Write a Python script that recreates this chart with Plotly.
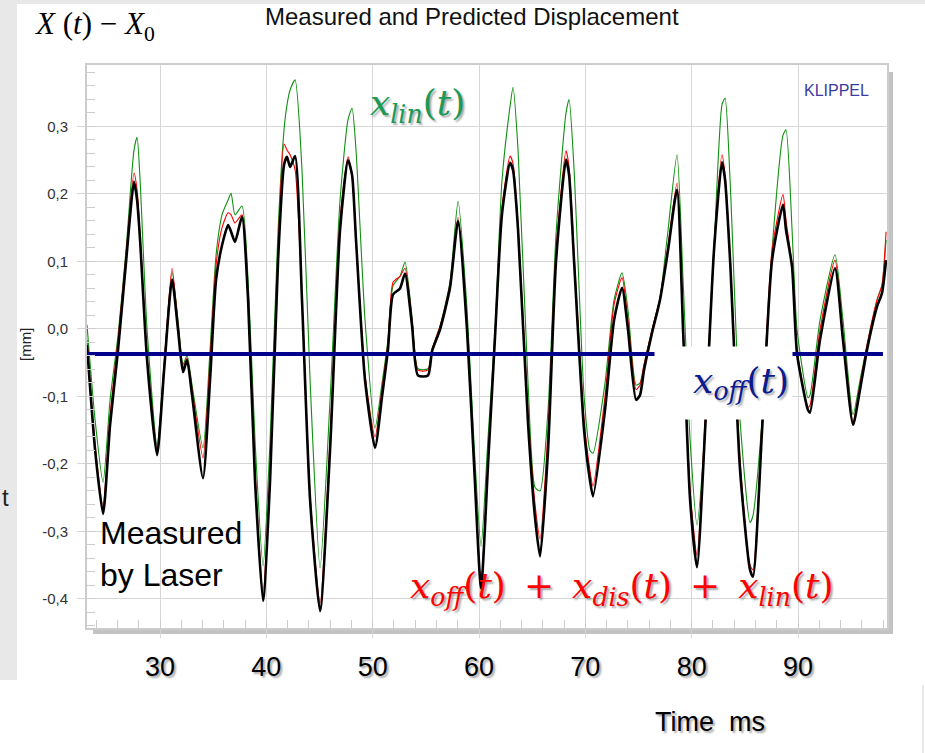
import plotly.graph_objects as go

# ---------------- data ----------------
time_ms = [23.13, 23.89, 24.64, 25.30, 26.05, 26.80, 27.55, 27.84, 28.12, 28.78,
           29.72, 30.38, 31.13, 31.69, 32.16, 32.54, 33.01, 34.04, 34.70, 35.27,
           35.83, 36.40, 36.68, 37.05, 37.71, 38.28, 38.93, 39.69, 40.35, 41.10,
           41.66, 41.94, 42.23, 42.70, 43.35, 44.11, 45.05, 45.99, 46.93, 47.68,
           48.06, 48.43, 49.28, 50.22, 50.88, 51.44, 51.91, 52.57, 53.04, 53.70,
           54.26, 55.20, 55.58, 56.33, 57.27, 58.03, 58.87, 59.53, 60.19, 60.85,
           61.51, 62.16, 62.92, 63.20, 63.67, 64.61, 65.27, 65.74, 66.49, 67.24,
           68.18, 68.47, 68.94, 69.88, 70.44, 70.72, 71.85, 72.70, 73.45, 74.01,
           74.77, 75.14, 75.52, 76.27, 77.02, 77.78, 78.62, 79.19, 79.85, 80.50,
           81.26, 82.10, 82.85, 83.14, 83.61, 84.55, 85.49, 85.77, 86.62, 87.56,
           88.59, 88.87, 89.44, 89.91, 90.94, 91.13, 92.07, 93.48, 94.23, 95.18,
           95.83, 96.49, 97.43, 97.90, 98.28]

measured = [-0.024, -0.179, -0.274, -0.142, -0.031, 0.099, 0.218, 0.191, 0.132, -0.046,
            -0.187, -0.061, 0.073, -0.001, -0.064, -0.046, -0.098, -0.221, -0.076, 0.073,
            0.124, 0.154, 0.144, 0.129, 0.166, 0.043, -0.224, -0.403, -0.224, 0.102,
            0.243, 0.255, 0.240, 0.256, 0.043, -0.253, -0.418, -0.179, 0.147, 0.250,
            0.228, 0.132, -0.076, -0.176, -0.100, -0.030, 0.051, 0.060, 0.082, 0.005,
            -0.069, -0.069, -0.033, -0.001, 0.061, 0.160, -0.001, -0.200, -0.384, -0.200,
            -0.010, 0.170, 0.246, 0.235, 0.147, -0.140, -0.280, -0.337, -0.180, 0.100,
            0.251, 0.228, 0.100, -0.150, -0.225, -0.248, -0.120, 0.013, 0.061, -0.001,
            -0.105, -0.098, -0.061, -0.006, 0.043, 0.117, 0.206, -0.001, -0.253, -0.353,
            -0.150, 0.117, 0.247, 0.221, 0.102, -0.209, -0.357, -0.367, -0.150, 0.102,
            0.184, 0.147, 0.092, -0.037, -0.120, -0.124, -0.016, 0.090, -0.016, -0.142,
            -0.090, -0.031, 0.033, 0.053, 0.102]

predicted = [-0.016, -0.172, -0.262, -0.127, -0.016, 0.110, 0.231, 0.206, 0.139, -0.039,
             -0.179, -0.053, 0.090, 0.006, -0.058, -0.043, -0.090, -0.191, -0.046, 0.095,
             0.150, 0.172, 0.169, 0.157, 0.169, 0.043, -0.209, -0.390, -0.209, 0.117,
             0.274, 0.265, 0.258, 0.236, 0.043, -0.246, -0.406, -0.164, 0.161, 0.255,
             0.228, 0.132, -0.068, -0.160, -0.088, -0.020, 0.069, 0.078, 0.090, 0.012,
             -0.061, -0.061, -0.030, 0.004, 0.066, 0.165, -0.001, -0.195, -0.377, -0.190,
             -0.010, 0.180, 0.256, 0.245, 0.154, -0.125, -0.260, -0.311, -0.150, 0.115,
             0.264, 0.240, 0.110, -0.135, -0.210, -0.233, -0.100, 0.036, 0.076, 0.013,
             -0.090, -0.083, -0.053, -0.001, 0.046, 0.124, 0.216, -0.001, -0.239, -0.335,
             -0.135, 0.124, 0.258, 0.228, 0.110, -0.194, -0.350, -0.357, -0.135, 0.117,
             0.199, 0.161, 0.095, -0.031, -0.116, -0.113, -0.001, 0.102, -0.009, -0.138,
             -0.083, -0.024, 0.043, 0.065, 0.144]

linear = [0.006, -0.135, -0.227, -0.105, -0.009, 0.117, 0.265, 0.284, 0.221, -0.001,
          -0.172, -0.053, 0.084, 0.013, -0.053, -0.039, -0.083, -0.176, -0.031, 0.110,
          0.169, 0.191, 0.201, 0.169, 0.182, 0.073, -0.164, -0.351, -0.164, 0.147,
          0.295, 0.332, 0.354, 0.369, 0.236, -0.076, -0.354, -0.105, 0.191, 0.310,
          0.327, 0.265, 0.013, -0.147, -0.080, -0.015, 0.064, 0.078, 0.099, 0.018,
          -0.059, -0.059, -0.030, 0.004, 0.070, 0.189, 0.030, -0.170, -0.322, -0.160,
          0.000, 0.220, 0.330, 0.358, 0.265, -0.080, -0.235, -0.240, -0.120, 0.140,
          0.320, 0.340, 0.236, -0.100, -0.180, -0.184, -0.080, 0.043, 0.083, 0.028,
          -0.083, -0.080, -0.053, -0.001, 0.046, 0.147, 0.258, 0.073, -0.164, -0.290,
          -0.150, 0.117, 0.332, 0.342, 0.221, -0.135, -0.287, -0.276, -0.135, 0.117,
          0.287, 0.295, 0.147, -0.001, -0.102, -0.098, 0.013, 0.110, 0.013, -0.127,
          -0.076, -0.024, 0.043, 0.065, 0.132]

offset_value = -0.037
offset_time = [23.13, 97.99]

x_range = [23.13, 98.37]
y_range = [-0.443, 0.391]
x_tick_vals = [30, 40, 50, 60, 70, 80, 90]
x_tick_text = ["30", "40", "50", "60", "70", "80", "90"]
y_tick_vals = [0.3, 0.2, 0.1, 0.0, -0.1, -0.2, -0.3, -0.4]
y_tick_text = ["0,3", "0,2", "0,1", "0,0", "-0,1", "-0,2", "-0,3", "-0,4"]

# ---------------- figure ----------------
W, H = 925, 753
L, R, T, B = 87, 38, 65, 125
PW, PH = W - L - R, H - T - B


def px(xp):
    return (xp - L) / PW


def py(yp):
    return (H - B - yp) / PH


fig = go.Figure()
fig.add_trace(go.Scatter(x=time_ms, y=linear, mode="lines", name="x_lin",
                         line=dict(color="#109010", width=1.1, shape="spline", smoothing=0.6)))
fig.add_trace(go.Scatter(x=time_ms, y=predicted, mode="lines", name="predicted",
                         line=dict(color="#ff0000", width=1.1, shape="spline", smoothing=0.6)))
fig.add_trace(go.Scatter(x=time_ms, y=measured, mode="lines", name="measured",
                         line=dict(color="#000000", width=2.6, shape="spline", smoothing=0.6)))
fig.add_trace(go.Scatter(x=offset_time, y=[offset_value, offset_value], mode="lines",
                         name="x_off", line=dict(color="#00008c", width=4)))

grid = "#d6d6d6"
shadow = "2px 2px 2px rgba(0,0,0,0.35)"

fig.update_layout(
    width=W, height=H, autosize=False,
    margin=dict(l=L, r=R, t=T, b=B),
    paper_bgcolor="white", plot_bgcolor="white",
    showlegend=False,
    font=dict(family="Liberation Sans, Arial, sans-serif", color="#000"),
    xaxis=dict(
        range=x_range, tickmode="array", tickvals=x_tick_vals, ticktext=x_tick_text,
        showgrid=True, gridcolor=grid, gridwidth=1, zeroline=False,
        ticks="outside", ticklen=8, tickcolor=grid,
        showline=True, linecolor="#cccccc", linewidth=2, mirror=True,
        minor=dict(ticks="inside", ticklen=8, dtick=2, tick0=0, tickcolor="#cccccc", showgrid=False),
        tickfont=dict(family="Liberation Sans, Arial, sans-serif", size=27, color="#000", shadow=shadow),
        ticklabelstandoff=6, automargin=False,
    ),
    yaxis=dict(
        range=y_range, tickmode="array", tickvals=y_tick_vals, ticktext=y_tick_text,
        showgrid=True, gridcolor=grid, gridwidth=1, zeroline=False,
        ticks="outside", ticklen=8, tickcolor=grid,
        showline=True, linecolor="#cccccc", linewidth=2, mirror=True,
        minor=dict(ticks="inside", ticklen=8, dtick=0.02, tick0=0, tickcolor="#cccccc", showgrid=False),
        tickfont=dict(family="Liberation Sans, Arial, sans-serif", size=15, color="#333"),
        ticklabelstandoff=6, automargin=False,
    ),
)

shapes = [
    # page gray bands
    dict(type="rect", xref="paper", yref="paper", x0=px(0), x1=px(17), y0=py(680), y1=py(0),
         fillcolor="#e8e8e8", line=dict(width=0), layer="below"),
    dict(type="rect", xref="paper", yref="paper", x0=px(0), x1=px(925), y0=py(4), y1=py(0),
         fillcolor="#e8e8e8", line=dict(width=0), layer="below"),
    # plot drop shadow
    dict(type="rect", xref="paper", yref="paper", x0=px(93), x1=px(893), y0=py(634), y1=py(629),
         fillcolor="#c3c3c3", line=dict(width=0), layer="below"),
    dict(type="rect", xref="paper", yref="paper", x0=px(888), x1=px(893), y0=py(634), y1=py(72),
         fillcolor="#c3c3c3", line=dict(width=0), layer="below"),
    dict(type="line", xref="paper", yref="paper", x0=px(923), x1=px(923), y0=py(685), y1=py(753),
         line=dict(color="#d0d0d0", width=1)),
]
fig.update_layout(shapes=shapes)

math_font = "DejaVu Serif, Liberation Serif, serif"
math_size = 36
annos = [
    dict(text="Measured and Predicted Displacement", x=px(472), y=py(17),
         font=dict(size=24, color="#111")),
    dict(text="<i>X</i> (<i>t</i>) − <i>X</i><sub>0</sub>", x=px(32), y=py(26), xanchor="left",
         font=dict(family="Liberation Serif, Times New Roman, serif", size=31, color="#000")),
    dict(text="[mm]", x=px(25), y=py(345), textangle=-90, font=dict(size=15, color="#222")),
    dict(text="t", x=px(0), y=py(497), xanchor="left", font=dict(size=24, color="#222")),
    dict(text="KLIPPEL", x=px(836), y=py(90), font=dict(size=16, color="#3a3aa0")),
    dict(text="<i>x</i><sub><i>lin</i></sub>(<i>t</i>)", x=px(368), y=py(105), xanchor="left",
         font=dict(family=math_font, size=math_size, color="#1a9a55", shadow=shadow)),
    dict(text="<i>x</i><sub><i>off</i></sub>(<i>t</i>)", x=px(723.5), y=py(383),
         width=131, height=66, borderpad=3, bgcolor="white", align="right",
         font=dict(family=math_font, size=math_size, color="#0a1a90", shadow=shadow)),
    dict(text="<i>x</i><sub><i>off</i></sub>(<i>t</i>)&#8194;+&#8194;<i>x</i><sub><i>dis</i></sub>(<i>t</i>)"
              "&#8194;+&#8194;<i>x</i><sub><i>lin</i></sub>(<i>t</i>)",
         x=px(408), y=py(588), xanchor="left",
         font=dict(family=math_font, size=math_size, color="#ff0000", shadow=shadow)),
    dict(text="Measured<br>by Laser", x=px(98), y=py(513), xanchor="left", yanchor="top",
         align="left", font=dict(size=32, color="#000")),
    dict(text="Time  ms", x=px(710), y=py(722),
         font=dict(size=27, color="#000", shadow=shadow)),
]
for a in annos:
    a.setdefault("xref", "paper")
    a.setdefault("yref", "paper")
    a.setdefault("showarrow", False)
    a.setdefault("xanchor", "center")
    a.setdefault("yanchor", "middle")
fig.update_layout(annotations=annos)

fig.write_html("out.html", config={"displayModeBar": False},
               post_script="document.body.style.margin='0px';")
